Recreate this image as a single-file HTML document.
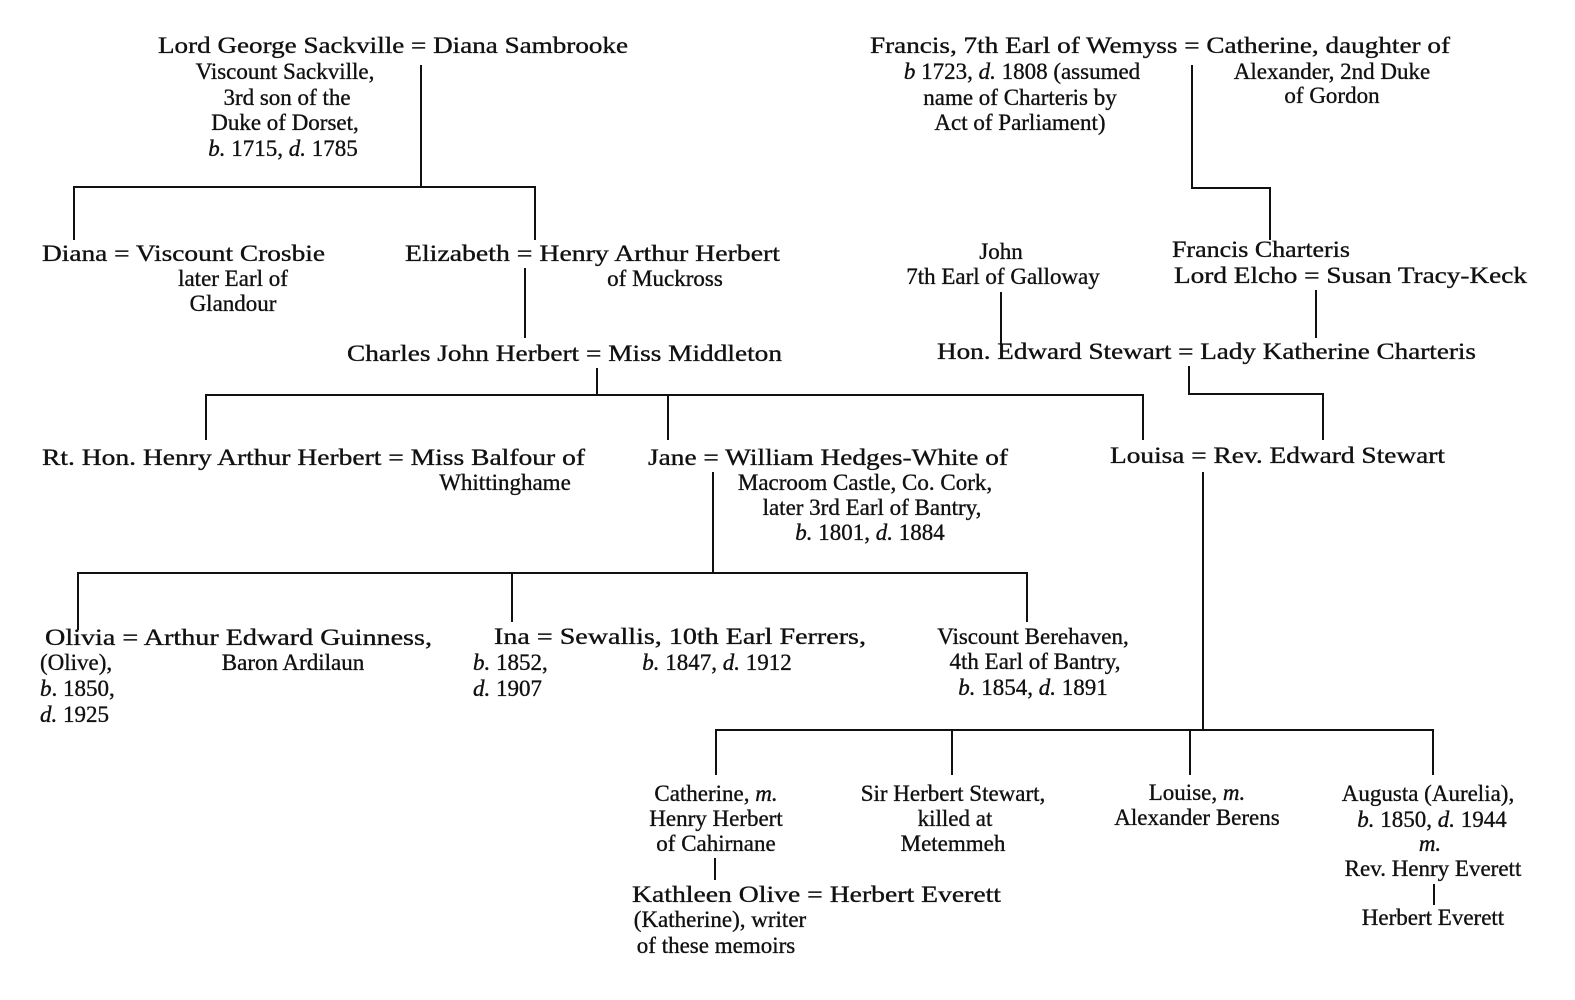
<!DOCTYPE html>
<html><head><meta charset="utf-8"><style>
html,body{margin:0;padding:0;background:#fff;}
svg{display:block;}
text{font-family:"Liberation Serif",serif;font-size:23px;fill:#111;stroke:#111;stroke-width:0.35;}
.c{text-anchor:middle;}
line{stroke:#111;stroke-width:2;}
</style></head><body>
<svg width="1575" height="1000" viewBox="0 0 1575 1000">
<g>
<line x1="421" y1="65" x2="421" y2="188"/>
<line x1="73" y1="187" x2="536" y2="187"/>
<line x1="74" y1="187" x2="74" y2="240"/>
<line x1="535" y1="187" x2="535" y2="240"/>
<line x1="1192" y1="65" x2="1192" y2="189"/>
<line x1="1191" y1="188" x2="1271" y2="188"/>
<line x1="1270" y1="188" x2="1270" y2="240"/>
<line x1="525" y1="268" x2="525" y2="338"/>
<line x1="1001" y1="292" x2="1001" y2="345"/>
<line x1="1316" y1="290" x2="1316" y2="338"/>
<line x1="597" y1="368" x2="597" y2="395"/>
<line x1="205" y1="395" x2="1144" y2="395"/>
<line x1="206" y1="395" x2="206" y2="440"/>
<line x1="668" y1="395" x2="668" y2="440"/>
<line x1="1143" y1="395" x2="1143" y2="440"/>
<line x1="1189" y1="366" x2="1189" y2="395"/>
<line x1="1188" y1="394" x2="1324" y2="394"/>
<line x1="1323" y1="394" x2="1323" y2="440"/>
<line x1="713" y1="472" x2="713" y2="573"/>
<line x1="1203" y1="472" x2="1203" y2="730"/>
<line x1="77" y1="573" x2="1028" y2="573"/>
<line x1="78" y1="573" x2="78" y2="630"/>
<line x1="512" y1="573" x2="512" y2="622"/>
<line x1="1027" y1="573" x2="1027" y2="622"/>
<line x1="715" y1="730" x2="1434" y2="730"/>
<line x1="716" y1="730" x2="716" y2="775"/>
<line x1="952" y1="730" x2="952" y2="775"/>
<line x1="1190" y1="730" x2="1190" y2="775"/>
<line x1="1433" y1="730" x2="1433" y2="775"/>
<line x1="715" y1="858" x2="715" y2="880"/>
<line x1="1434" y1="884" x2="1434" y2="905"/>
</g>
<g>
<text x="158" y="53" textLength="470" lengthAdjust="spacingAndGlyphs">Lord George Sackville = Diana Sambrooke</text>
<text class="c" x="285" y="79">Viscount Sackville,</text>
<text class="c" x="287" y="105">3rd son of the</text>
<text class="c" x="285" y="130">Duke of Dorset,</text>
<text class="c" x="283" y="156"><tspan font-style="italic">b.</tspan> 1715, <tspan font-style="italic">d.</tspan> 1785</text>

<text x="870" y="53" textLength="580" lengthAdjust="spacingAndGlyphs">Francis, 7th Earl of Wemyss = Catherine, daughter of</text>
<text class="c" x="1022" y="79"><tspan font-style="italic">b</tspan> 1723, <tspan font-style="italic">d.</tspan> 1808 (assumed</text>
<text class="c" x="1020" y="105">name of Charteris by</text>
<text class="c" x="1020" y="130">Act of Parliament)</text>
<text class="c" x="1332" y="79">Alexander, 2nd Duke</text>
<text class="c" x="1332" y="103">of Gordon</text>

<text x="42" y="261" textLength="283" lengthAdjust="spacingAndGlyphs">Diana = Viscount Crosbie</text>
<text class="c" x="233" y="286">later Earl of</text>
<text class="c" x="233" y="311">Glandour</text>
<text x="405" y="261" textLength="375" lengthAdjust="spacingAndGlyphs">Elizabeth = Henry Arthur Herbert</text>
<text class="c" x="665" y="286">of Muckross</text>

<text class="c" x="1001" y="259">John</text>
<text class="c" x="1003" y="284">7th Earl of Galloway</text>
<text x="1172" y="257" textLength="178" lengthAdjust="spacingAndGlyphs">Francis Charteris</text>
<text x="1174" y="283" textLength="353" lengthAdjust="spacingAndGlyphs">Lord Elcho = Susan Tracy-Keck</text>

<text x="937" y="359" textLength="539" lengthAdjust="spacingAndGlyphs">Hon. Edward Stewart = Lady Katherine Charteris</text>
<text x="347" y="361" textLength="435" lengthAdjust="spacingAndGlyphs">Charles John Herbert = Miss Middleton</text>

<text x="42" y="465" textLength="543" lengthAdjust="spacingAndGlyphs">Rt. Hon. Henry Arthur Herbert = Miss Balfour of</text>
<text class="c" x="505" y="490">Whittinghame</text>
<text x="648" y="465" textLength="360" lengthAdjust="spacingAndGlyphs">Jane = William Hedges-White of</text>
<text class="c" x="865" y="490">Macroom Castle, Co. Cork,</text>
<text class="c" x="872" y="515">later 3rd Earl of Bantry,</text>
<text class="c" x="870" y="540"><tspan font-style="italic">b.</tspan> 1801, <tspan font-style="italic">d.</tspan> 1884</text>
<text x="1110" y="463" textLength="335" lengthAdjust="spacingAndGlyphs">Louisa = Rev. Edward Stewart</text>

<text x="45" y="645" textLength="387" lengthAdjust="spacingAndGlyphs">Olivia = Arthur Edward Guinness,</text>
<text x="40" y="670">(Olive),</text>
<text x="40" y="696"><tspan font-style="italic">b</tspan>. 1850,</text>
<text x="40" y="722"><tspan font-style="italic">d.</tspan> 1925</text>
<text class="c" x="293" y="670">Baron Ardilaun</text>
<text x="494" y="644" textLength="372" lengthAdjust="spacingAndGlyphs">Ina = Sewallis, 10th Earl Ferrers,</text>
<text x="473" y="670"><tspan font-style="italic">b.</tspan> 1852,</text>
<text x="473" y="696"><tspan font-style="italic">d.</tspan> 1907</text>
<text class="c" x="717" y="670"><tspan font-style="italic">b.</tspan> 1847, <tspan font-style="italic">d.</tspan> 1912</text>
<text class="c" x="1033" y="644">Viscount Berehaven,</text>
<text class="c" x="1035" y="669">4th Earl of Bantry,</text>
<text class="c" x="1033" y="695"><tspan font-style="italic">b.</tspan> 1854, <tspan font-style="italic">d.</tspan> 1891</text>

<text class="c" x="716" y="801">Catherine, <tspan font-style="italic">m.</tspan></text>
<text class="c" x="716" y="826">Henry Herbert</text>
<text class="c" x="716" y="851">of Cahirnane</text>
<text class="c" x="953" y="801">Sir Herbert Stewart,</text>
<text class="c" x="955" y="826">killed at</text>
<text class="c" x="953" y="851">Metemmeh</text>
<text class="c" x="1197" y="800">Louise, <tspan font-style="italic">m.</tspan></text>
<text class="c" x="1197" y="825">Alexander Berens</text>
<text class="c" x="1428" y="801">Augusta (Aurelia),</text>
<text class="c" x="1432" y="827"><tspan font-style="italic">b.</tspan> 1850, <tspan font-style="italic">d.</tspan> 1944</text>
<text class="c" x="1430" y="851" font-style="italic">m.</text>
<text class="c" x="1433" y="876">Rev. Henry Everett</text>
<text class="c" x="1433" y="925">Herbert Everett</text>

<text x="632" y="902" textLength="369" lengthAdjust="spacingAndGlyphs">Kathleen Olive = Herbert Everett</text>
<text class="c" x="720" y="927">(Katherine), writer</text>
<text class="c" x="716" y="953">of these memoirs</text>
</g>
</svg>
</body></html>
